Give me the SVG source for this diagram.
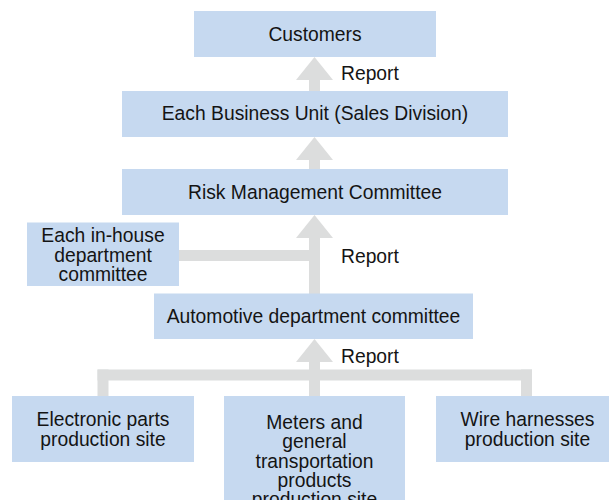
<svg xmlns="http://www.w3.org/2000/svg" width="609" height="500" viewBox="0 0 609 500">
  <style>
    .box { fill: #c6d9f0; }
    .link { fill: #dcdddd; }
    text { font-family: "Liberation Sans", Arial, Helvetica, sans-serif; font-size: 19.3px; fill: #141414; text-anchor: middle; }
    .lbl { text-anchor: start; }
  </style>
  <defs>
    <!-- upward block arrow head, tip at origin -->
    <polygon id="head" points="0,0 18.5,23 -18.5,23"/>
  </defs>
  <rect width="609" height="500" fill="#ffffff"/>

  <!-- connectors -->
  <g id="connectors" class="link">
    <!-- Business Unit -> Customers -->
    <use href="#head" x="314.5" y="57"/>
    <rect x="309" y="79" width="11" height="12"/>
    <!-- Risk Management -> Business Unit -->
    <use href="#head" x="314.5" y="137"/>
    <rect x="309" y="159" width="11" height="10"/>
    <!-- Automotive / in-house -> Risk Management -->
    <use href="#head" x="314.5" y="215"/>
    <rect x="309" y="237" width="11" height="57"/>
    <rect x="179" y="250" width="135" height="11"/>
    <!-- production sites -> Automotive -->
    <use href="#head" x="314.5" y="339"/>
    <rect x="309" y="361" width="11" height="35"/>
    <rect x="97.5" y="369.5" width="434.5" height="11"/>
    <rect x="97.5" y="369.5" width="11" height="27"/>
    <rect x="521" y="369.5" width="11" height="27"/>
  </g>

  <g id="labels">
    <text class="lbl" x="341" y="80">Report</text>
    <text class="lbl" x="341" y="262.5">Report</text>
    <text class="lbl" x="341" y="362.5">Report</text>
  </g>

  <g id="customers">
    <rect class="box" x="194" y="11" width="242" height="46"/>
    <text x="315" y="40.5">Customers</text>
  </g>

  <g id="business-unit">
    <rect class="box" x="122" y="91" width="386" height="46"/>
    <text x="315" y="120">Each Business Unit (Sales Division)</text>
  </g>

  <g id="risk-committee">
    <rect class="box" x="122" y="169" width="386" height="46"/>
    <text x="315" y="198.5">Risk Management Committee</text>
  </g>

  <g id="inhouse-committee">
    <rect class="box" x="27" y="222.5" width="152" height="63.5"/>
    <text x="103" y="241.5">Each in-house</text>
    <text x="103" y="261.5">department</text>
    <text x="103" y="281">committee</text>
  </g>

  <g id="automotive-committee">
    <rect class="box" x="154" y="293.5" width="319" height="45.5"/>
    <text x="313.5" y="322.5">Automotive department committee</text>
  </g>

  <g id="electronic-site">
    <rect class="box" x="12" y="396" width="182" height="66"/>
    <text x="103" y="426">Electronic parts</text>
    <text x="103" y="446">production site</text>
  </g>

  <g id="meters-site">
    <rect class="box" x="224" y="396" width="181" height="110"/>
    <text x="314.5" y="429">Meters and</text>
    <text x="314.5" y="448.3">general</text>
    <text x="314.5" y="467.6">transportation</text>
    <text x="314.5" y="486.9">products</text>
    <text x="314.5" y="506.2">production site</text>
  </g>

  <g id="wire-site">
    <rect class="box" x="436" y="396" width="182" height="66"/>
    <text x="527.5" y="426">Wire harnesses</text>
    <text x="527.5" y="446">production site</text>
  </g>
</svg>
